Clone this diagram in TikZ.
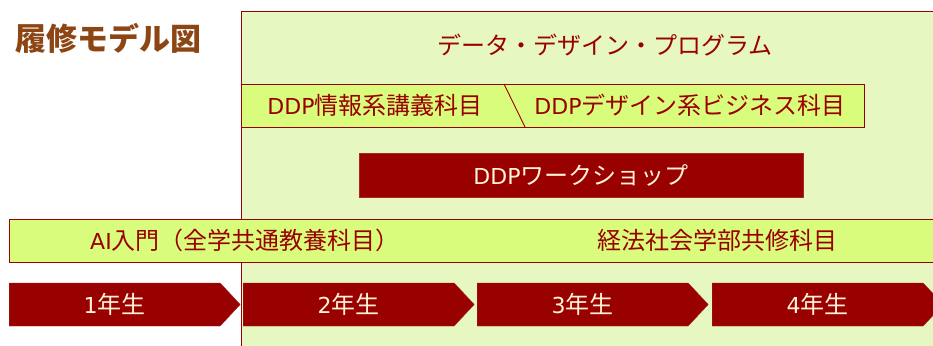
\documentclass[tikz,border=0pt]{standalone}
\usepackage{fontspec}
\setmainfont{Noto Sans CJK JP}
\newfontfamily\latinfont{DejaVu Sans}
\usetikzlibrary{shapes.symbols}
\definecolor{panelgreen}{HTML}{E6F7C1}
\definecolor{limegreen}{HTML}{D9FC7C}
\definecolor{darkred}{HTML}{990000}
\definecolor{titlebrown}{HTML}{8C4513}
\definecolor{cream}{HTML}{FFF2D9}
\newcommand{\lat}[1]{{\latinfont\fontsize{22}{22}\selectfont #1}}
\tikzset{>=stealth}
\tikzset{
    bar/.style={draw=darkred, fill=limegreen, line width=.9pt, inner sep=0pt,
        minimum height=43pt, anchor=west},
    bartext/.style={text=darkred, inner sep=0pt, font=\fontsize{24}{24}\selectfont},
    yearbox/.style={shape=signal, signal to=east, signal pointer angle=94,
        fill=darkred, draw=darkred!85!white, inner sep=0pt, minimum width=231pt,
        minimum height=43pt, anchor=west, text=cream,
        font=\fontsize{24}{24}\selectfont},
}

\begin{document}
\begin{tikzpicture}[x=1pt,y=-1pt]
    \useasboundingbox (0,0) rectangle (933,345);
    \clip (0,0) rectangle (933,345);

    \fill[panelgreen] (241,11) rectangle (940,350);
    \draw[darkred, line width=.9pt] (241,350) -- (241,11) -- (940,11);

    \node[text=titlebrown, font=\fontsize{31}{31}\selectfont\bfseries, inner sep=0pt]
        (title) at (108,38) {履修モデル図};
    \node[bartext] (program) at (605,45) {データ・デザイン・プログラム};

    \node[bar, minimum width=623pt] (ddp) at (241,105.5) {};
    \coordinate (slashtop) at (504,84);
    \coordinate (slashbot) at (525,127);
    \draw[darkred, line width=.9pt] (slashtop) -- (slashbot);
    \node[bartext] (info) at (375,105.5) {\lat{DDP}情報系講義科目};
    \node[bartext] (design) at (690,105.5) {\lat{DDP}デザイン系ビジネス科目};

    \node[bar, fill=darkred, draw=darkred!85!white, minimum width=444pt,
        minimum height=44pt] (workshop) at (359,175) {};
    \node[bartext, text=cream] (wstext) at (581,175) {\lat{DDP}ワークショップ};

    \node[bar, minimum width=935pt] (common) at (9,240.5) {};
    \node[bartext] (ai) at (245,240.5) {\lat{AI}入門（全学共通教養科目）};
    \node[bartext] (keiho) at (717,240.5) {経法社会学部共修科目};

    \node[yearbox] (y1) at (9,304.5) {\lat{1}年生};
    \node[yearbox] (y2) at (243,304.5) {\lat{2}年生};
    \node[yearbox] (y3) at (477,304.5) {\lat{3}年生};
    \node[yearbox] (y4) at (712,304.5) {\lat{4}年生};
\end{tikzpicture}
\end{document}
